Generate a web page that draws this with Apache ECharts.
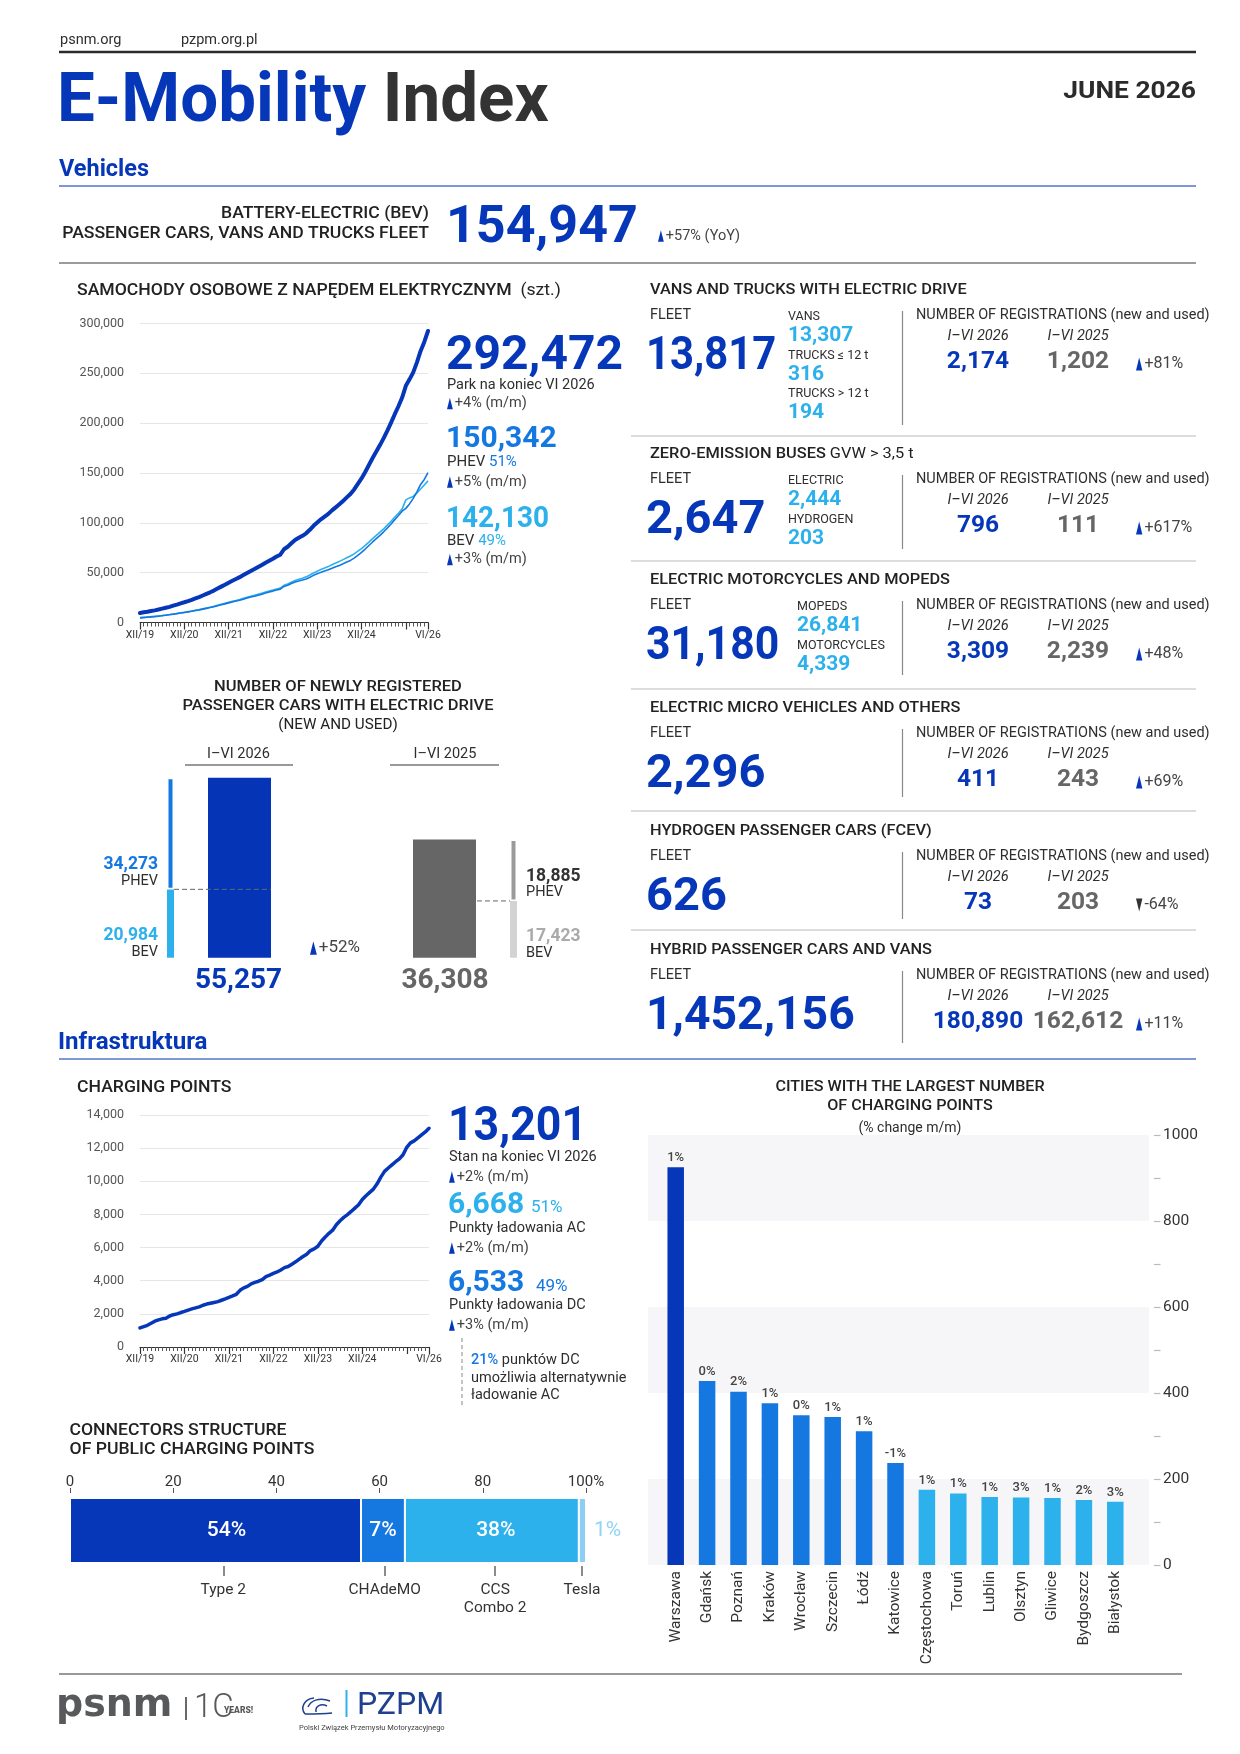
<!DOCTYPE html>
<html><head><meta charset="utf-8">
<script src="https://cdn.jsdelivr.net/npm/echarts@6/dist/echarts.min.js"></script>
<style>html,body{margin:0;padding:0;background:#fff}#c{width:1240px;height:1754px}</style>
</head><body><div id="c"></div>
<script>
// ---------------- DATA ----------------
const ROMAN = ['I','II','III','IV','V','VI','VII','VIII','IX','X','XI','XII'];
const months = ['XII/19'];
for (let y = 20; y <= 26; y++) { for (let m = 0; m < 12; m++) { if (y === 26 && m > 5) break; months.push(ROMAN[m] + '/' + y); } }
const xLabelShown = ['XII/19','XII/20','XII/21','XII/22','XII/23','XII/24','VI/26'];
const xMajorTicks = ['XII/19','XII/20','XII/21','XII/22','XII/23','XII/24','XII/25','VI/26'];

const evTotal = [
9500,10200,10800,11500,12200,13000,13900,14800,15700,16900,18000,19200,
20300,21500,22800,24200,25500,27100,28700,30300,32000,34000,36000,37900,
39900,41800,43600,45500,47600,49700,51700,53600,55700,57800,60000,62000,
64000,66200,68000,73500,76000,79500,82800,85000,87000,89500,93000,97000,
100300,103500,106200,109000,112500,115500,118600,122000,125500,129000,133500,139000,
144600,151000,158000,165000,171500,178000,185000,192500,200500,209000,217000,225700,
237500,244000,251000,261000,272500,281500,292472];
const evPhev = [
4600,4900,5200,5600,5900,6300,6800,7200,7700,8300,8900,9500,
10100,10700,11300,12000,12600,13400,14200,15000,15800,16800,17800,18700,
19700,20600,21500,22400,23400,24500,25500,26400,27400,28400,29500,30500,
31500,32600,33500,36200,37400,39100,40700,41700,42600,43700,45400,47300,
48800,50300,51600,52900,54500,55900,57300,58900,60600,62300,64600,67400,
70400,73700,77300,80800,84100,87400,91000,94800,98900,103200,107400,111700,
114500,119000,124500,131000,138500,143500,150342];
const evBev = [
4900,5300,5600,5900,6300,6700,7100,7600,8000,8600,9100,9700,
10200,10800,11500,12200,12900,13700,14500,15300,16200,17200,18200,19200,
20200,21200,22100,23100,24200,25200,26200,27200,28300,29400,30500,31500,
32500,33600,34500,37300,38600,40400,42100,43300,44400,45800,47600,49700,
51500,53200,54600,56100,58000,59600,61300,63100,64900,66700,68900,71600,
74200,77300,80700,84200,87400,90600,94000,97700,101600,105800,109600,114000,
123000,125000,126500,130000,134000,138000,142130];
const chargingPoints = [
1150,1230,1310,1430,1560,1640,1700,1740,1870,1950,2000,2080,
2150,2230,2300,2360,2420,2520,2590,2640,2690,2740,2820,2900,
2990,3080,3180,3420,3570,3660,3810,3900,3970,4070,4250,4340,
4440,4530,4650,4790,4860,5000,5140,5300,5460,5600,5820,5920,
6080,6400,6640,6860,7050,7380,7620,7820,7990,8180,8380,8580,
8900,9130,9330,9530,9850,10250,10600,10800,10990,11180,11350,11600,
12050,12320,12440,12620,12800,12980,13201];

const newRegYears = ['I–VI 2026', 'I–VI 2025'];
const newRegTotal = [55257, 36308];
const newRegPhev = [34273, 18885];
const newRegBev = [20984, 17423];

const connectorNames = ['Type 2', 'CHAdeMO', 'CCS\nCombo 2', 'Tesla'];
const connectorBarLength = [56.4, 8.5, 33.7, 1.4];
const connectorLabels = ['54%', '7%', '38%', '1%'];
const connectorTickPos = [29.7, 61.0, 82.4, 99.2];

const cities = ['Warszawa','Gdańsk','Poznań','Kraków','Wrocław','Szczecin','Łódź','Katowice','Częstochowa','Toruń','Lublin','Olsztyn','Gliwice','Bydgoszcz','Białystok'];
const cityPoints = [925, 428, 403, 376, 348, 344, 311, 237, 175, 166, 158, 157, 156, 151, 147];
const cityChange = ['1%','0%','2%','1%','0%','1%','1%','-1%','1%','1%','1%','3%','1%','2%','3%'];

const panelTitles = [
  ['VANS AND TRUCKS WITH ELECTRIC DRIVE', ''],
  ['ZERO-EMISSION BUSES', 'GVW > 3,5 t'],
  ['ELECTRIC MOTORCYCLES AND MOPEDS', ''],
  ['ELECTRIC MICRO VEHICLES AND OTHERS', ''],
  ['HYDROGEN PASSENGER CARS (FCEV)', ''],
  ['HYBRID PASSENGER CARS AND VANS', '']];
const panelFleet = [13817, 2647, 31180, 2296, 626, 1452156];
const panelSubLabels = [['VANS','TRUCKS ≤ 12 t','TRUCKS > 12 t'], ['ELECTRIC','HYDROGEN'], ['MOPEDS','MOTORCYCLES'], [], [], []];
const panelSubValues = [[13307, 316, 194], [2444, 203], [26841, 4339], [], [], []];
const panelReg2026 = [2174, 796, 3309, 411, 73, 180890];
const panelReg2025 = [1202, 111, 2239, 243, 203, 162612];
const panelChange = ['+81%', '+617%', '+48%', '+69%', '-64%', '+11%'];

const bevFleetTotal = 154947, bevFleetChange = '+57%';
const evParkTotal = 292472, evPhevTotal = 150342, evBevTotal = 142130;
const chargeTotal = 13201, chargeAC = 6668, chargeDC = 6533;

// ---------------- STYLE / HELPERS ----------------
const FF = 'Roboto, "Noto Sans", sans-serif';
const BLUE = '#0637b8', MID = '#1577e0', CYAN = '#2cb1ec', TXT = '#2e2e2e';
const fmt = v => v.toLocaleString('en-US');
function tok(size, color, w, it, ff) { return { fontSize: size, fill: color, fontWeight: w || 400, fontStyle: it ? 'italic' : 'normal', fontFamily: ff || FF }; }
function T(x, y, text, size, color, o) {
  o = o || {};
  const st = Object.assign({ text: text, textAlign: o.a || 'left', align: o.a || 'left', textVerticalAlign: 'middle', verticalAlign: 'middle' }, tok(size, color, o.w, o.it, o.ff));
  if (o.rich) st.rich = o.rich;
  const dy = size > 20 ? (size - 14) * 0.1 : 0;
  return { type: 'text', x: x, y: y + dy, scaleX: o.sx || 1, scaleY: 1, silent: true, z: 10, style: st };
}
function L(x1, y1, x2, y2, color, w, dash) {
  return { type: 'line', silent: true, z: 9, shape: { x1, y1, x2, y2 }, style: { stroke: color, lineWidth: w, lineDash: dash || null } };
}
function chg(x, y, text, size, down) {
  const h = size * 0.8, w = size * 0.4;
  const pts = down ? [[x, y - h / 2], [x + w, y - h / 2], [x + w / 2, y + h / 2]] : [[x + w / 2, y - h / 2], [x + w, y + h / 2], [x, y + h / 2]];
  return [{ type: 'polygon', silent: true, z: 10, shape: { points: pts }, style: { fill: down ? '#333' : BLUE } }, T(x + w + 2, y, text, size, '#444')];
}
function curve(x1, y1, cx1, cy1, cx2, cy2, x2, y2, color, w) {
  return { type: 'bezierCurve', silent: true, z: 10, shape: { x1, y1, cpx1: cx1, cpy1: cy1, cpx2: cx2, cpy2: cy2, x2, y2 }, style: { stroke: color, lineWidth: w, fill: null } };
}

const els = [];
// header
els.push(T(60, 40, 'psnm.org', 14.5, TXT));
els.push(T(181, 40, 'pzpm.org.pl', 14.5, TXT));
els.push(L(59, 52, 1196, 52, '#2b2b2b', 2.5));
els.push(T(57, 98, '{b|E-Mobility} {g|Index}', 69, BLUE, { w: 700, sx: 0.975, rich: { b: tok(69, BLUE, 700), g: tok(69, '#333', 700) } }));
els.push(T(1196, 91, 'JUNE 2026', 24, '#2b2b2b', { w: 700, a: 'right', sx: 1.1 }));
els.push(T(59, 169, 'Vehicles', 23, BLUE, { w: 700, sx: 1.02 }));
els.push(L(59, 186, 1196, 186, '#7d97d8', 2));
els.push(T(429, 214, 'BATTERY-ELECTRIC (BEV)', 16, '#222', { w: 500, a: 'right', sx: 1.1 }));
els.push(T(429, 234, 'PASSENGER CARS, VANS AND TRUCKS FLEET', 16, '#222', { w: 500, a: 'right', sx: 1.1 }));
els.push(T(446, 225, fmt(bevFleetTotal), 52, BLUE, { w: 700 }));
els.push(...chg(658, 236, bevFleetChange + ' (YoY)', 14.5));
els.push(L(59, 263, 1196, 263, '#9b9b9b', 2));

// EV passenger cars
els.push(T(77, 291, '{b|SAMOCHODY OSOBOWE Z NAPĘDEM ELEKTRYCZNYM}  {r|(szt.)}', 16, '#222', { sx: 1.1, rich: { b: tok(16, '#222', 500), r: tok(16, '#222', 400) } }));
els.push(T(446, 354, fmt(evParkTotal), 48, BLUE, { w: 700 }));
els.push(T(447, 385, 'Park na koniec VI 2026', 14.5, TXT));
els.push(...chg(447, 403.5, '+4% (m/m)', 14.5));
els.push(T(446, 438, fmt(evPhevTotal), 30, MID, { w: 700 }));
els.push(T(447, 462, '{k|PHEV} {m|51%}', 15, TXT, { rich: { k: tok(15, TXT), m: tok(15, MID) } }));
els.push(...chg(447, 482, '+5% (m/m)', 14.5));
els.push(T(446, 518, fmt(evBevTotal), 30, CYAN, { w: 700, sx: 0.93 }));
els.push(T(447, 541, '{k|BEV} {m|49%}', 15, TXT, { rich: { k: tok(15, TXT), m: tok(15, CYAN) } }));
els.push(...chg(447, 559.5, '+3% (m/m)', 14.5));

// new registrations
els.push(T(338, 687, 'NUMBER OF NEWLY REGISTERED', 15, '#222', { w: 500, a: 'center', sx: 1.1 }));
els.push(T(338, 706, 'PASSENGER CARS WITH ELECTRIC DRIVE', 15, '#222', { w: 500, a: 'center', sx: 1.1 }));
els.push(T(338, 725, '(NEW AND USED)', 14.5, '#222', { a: 'center', sx: 1.05 }));
els.push(T(238.5, 754, newRegYears[0], 14.5, TXT, { a: 'center' }));
els.push(L(185, 765, 293, 765, '#999', 2));
els.push(T(445, 754, newRegYears[1], 14.5, TXT, { a: 'center' }));
els.push(L(390, 765, 499, 765, '#999', 2));
els.push(T(158, 865, fmt(newRegPhev[0]), 17.5, MID, { w: 700, a: 'right' }));
els.push(T(158, 881, 'PHEV', 14.5, TXT, { a: 'right' }));
els.push(T(158, 936, fmt(newRegBev[0]), 17.5, CYAN, { w: 700, a: 'right' }));
els.push(T(158, 952, 'BEV', 14.5, TXT, { a: 'right' }));
els.push(T(238.5, 980, fmt(newRegTotal[0]), 28, BLUE, { w: 700, a: 'center' }));
els.push(...chg(310, 948, '+52%', 17));
els.push(T(526, 877, fmt(newRegPhev[1]), 17.5, '#333', { w: 700 }));
els.push(T(526, 892, 'PHEV', 14.5, TXT));
els.push(T(526, 937, fmt(newRegBev[1]), 17.5, '#aaa', { w: 700 }));
els.push(T(526, 953, 'BEV', 14.5, TXT));
els.push(T(445, 980, fmt(newRegTotal[1]), 28, '#666', { w: 700, a: 'center' }));

// right panels
const panelY = [290, 454, 580, 708, 831, 950];
const panelSubX = [788, 788, 797];
const panelDivH = [114, 74, 74, 68, 67, 72];
const panelFleetSx = [0.89, 1, 0.91, 1, 1, 0.985];
panelTitles.forEach((t, i) => {
  const y = panelY[i];
  els.push(T(650, y, '{b|' + t[0] + '}' + (t[1] ? ' {r|' + t[1] + '}' : ''), 15, '#222', { sx: 1.09, rich: { b: tok(15, '#222', 500), r: tok(15, '#222', 400) } }));
  els.push(T(650, y + 25.5, 'FLEET', 14.5, TXT));
  els.push(T(646, y + 64, fmt(panelFleet[i]), 47, BLUE, { w: 700, sx: panelFleetSx[i] }));
  panelSubLabels[i].forEach((lab, j) => {
    els.push(T(panelSubX[i], y + 27 + j * 38.5, lab, 12.5, TXT));
    els.push(T(panelSubX[i], y + 45.5 + j * 38.5, fmt(panelSubValues[i][j]), 21, CYAN, { w: 700 }));
  });
  els.push(L(902.5, y + 21, 902.5, y + 21 + panelDivH[i], '#888', 1.2));
  els.push(T(916, y + 25.5, 'NUMBER OF REGISTRATIONS (new and used)', 13.8, TXT, { sx: 1.05 }));
  els.push(T(978, y + 46.5, 'I–VI 2026', 14.5, TXT, { a: 'center', it: true }));
  els.push(T(1078, y + 46.5, 'I–VI 2025', 14.5, TXT, { a: 'center', it: true }));
  els.push(T(978, y + 71, fmt(panelReg2026[i]), 24.5, BLUE, { w: 700, a: 'center' }));
  els.push(T(1078, y + 71, fmt(panelReg2025[i]), 24.5, '#666', { w: 700, a: 'center' }));
  els.push(...chg(1136, y + 74, panelChange[i], 16, panelChange[i][0] === '-'));
});
[436, 561, 689, 811, 930].forEach(y => els.push(L(631, y, 1196, y, '#dcdcdc', 2)));

// infrastructure
els.push(T(58, 1042, 'Infrastruktura', 23, BLUE, { w: 700, sx: 1.05 }));
els.push(L(59, 1059, 1196, 1059, '#7d97d8', 2));
els.push(T(77, 1088, 'CHARGING POINTS', 16, '#222', { w: 500, sx: 1.1 }));
els.push(T(448, 1125, fmt(chargeTotal), 48, BLUE, { w: 700, sx: 0.93 }));
els.push(T(449, 1157, 'Stan na koniec VI 2026', 14.5, TXT));
els.push(...chg(449, 1177, '+2% (m/m)', 14.5));
els.push(T(448, 1204, fmt(chargeAC), 30, CYAN, { w: 700 }));
els.push(T(531, 1208, '51%', 17, CYAN));
els.push(T(449, 1228, 'Punkty ładowania AC', 14.5, TXT));
els.push(...chg(449, 1248, '+2% (m/m)', 14.5));
els.push(T(448, 1282, fmt(chargeDC), 30, MID, { w: 700 }));
els.push(T(536, 1287, '49%', 17, MID));
els.push(T(449, 1305, 'Punkty ładowania DC', 14.5, TXT));
els.push(...chg(449, 1325, '+3% (m/m)', 14.5));
els.push(L(462, 1338, 462, 1407, '#b0b0b0', 1.5, [4, 3]));
els.push(T(471, 1360, '{m|21%} punktów DC', 14.5, TXT, { rich: { m: tok(14.5, MID, 500) } }));
els.push(T(471, 1378, 'umożliwia alternatywnie', 14.5, TXT));
els.push(T(471, 1395, 'ładowanie AC', 14.5, TXT));

els.push(T(69.5, 1431, 'CONNECTORS STRUCTURE', 16, '#222', { w: 500, sx: 1.1 }));
els.push(T(69.5, 1450, 'OF PUBLIC CHARGING POINTS', 16, '#222', { w: 500, sx: 1.1 }));

els.push(T(910, 1087, 'CITIES WITH THE LARGEST NUMBER', 15.5, '#222', { w: 500, a: 'center', sx: 1.04 }));
els.push(T(910, 1106.5, 'OF CHARGING POINTS', 15.5, '#222', { w: 500, a: 'center', sx: 1.04 }));
els.push(T(910, 1128, '(% change m/m)', 14, TXT, { a: 'center' }));

// footer
els.push(L(59, 1674, 1182, 1674, '#777', 1.5));
els.push(T(56, 1704, 'psnm', 38, '#58595b', { w: 700, ff: '"DejaVu Sans", sans-serif' }));
els.push(L(186, 1697, 186, 1720, '#58595b', 1.8));
els.push(T(194, 1707, '1C', 33, '#58595b', { w: 300 }));
els.push(T(224, 1711, 'YEARS!', 8.5, '#58595b', { w: 900 }));
els.push(curve(314, 1698, 304, 1699, 300, 1708, 305, 1714, '#1f3f8f', 1.5));
els.push(curve(305, 1714, 312, 1714, 322, 1714, 332, 1713, '#1f3f8f', 1.5));
els.push(curve(308, 1707, 311, 1700, 320, 1697, 330, 1701, '#1f3f8f', 1.5));
els.push(curve(316, 1712, 315, 1706, 321, 1703, 327, 1706, '#1f3f8f', 1.5));
els.push(L(346.5, 1690, 346.5, 1717, CYAN, 2));
els.push(T(357, 1704, 'PZPM', 32, '#1f3f8f'));
els.push(T(299, 1728, 'Polski Związek Przemysłu Motoryzacyjnego', 7.5, '#444'));

// ---------------- CHART ----------------
function monthAxes(g) {
  return [{
    type: 'category', gridIndex: g, data: months, boundaryGap: false, position: 'bottom',
    axisLine: { lineStyle: { color: '#333', width: 1.2 } },
    axisTick: { interval: 0, length: 4, lineStyle: { color: '#555', width: 1 } },
    axisLabel: { interval: (i, v) => xLabelShown.includes(v), fontSize: 10.5, color: '#333', fontFamily: FF, margin: 7 },
    splitLine: { show: false }
  }, {
    type: 'category', gridIndex: g, data: months, boundaryGap: false, position: 'bottom',
    axisLine: { show: false },
    axisTick: { interval: (i, v) => xMajorTicks.includes(v), length: 7, lineStyle: { color: '#333', width: 1.2 } },
    axisLabel: { show: false }, splitLine: { show: false }
  }];
}
const hiddenCat = g => ({ type: 'category', gridIndex: g, data: ['x'], show: false });
const hiddenVal = g => ({ type: 'value', gridIndex: g, min: 0, max: newRegTotal[0], show: false });

const option = {
  animation: false,
  backgroundColor: '#fff',
  textStyle: { fontFamily: FF },
  grid: [
    { left: 140, top: 323.5, width: 288, height: 299 },   // 0 EV
    { left: 167, top: 777.7, width: 7, height: 180 },     // 1 thin 2026
    { left: 208, top: 777.7, width: 63, height: 180 },    // 2 big 2026
    { left: 413, top: 777.7, width: 63, height: 180 },    // 3 big 2025
    { left: 510, top: 777.7, width: 7, height: 180 },     // 4 thin 2025
    { left: 140, top: 1115, width: 289, height: 232 },    // 5 charging
    { left: 70, top: 1498, width: 516, height: 65 },      // 6 connectors
    { left: 648, top: 1135, width: 501, height: 430 },    // 7 cities bands
    { left: 660, top: 1135, width: 471, height: 430 }     // 8 cities bars
  ],
  xAxis: [
    ...monthAxes(0),
    hiddenCat(1), hiddenCat(2), hiddenCat(3), hiddenCat(4),
    ...monthAxes(5),
    { type: 'value', gridIndex: 6, min: 0, max: 100, interval: 20, position: 'top', offset: 5,
      axisLine: { show: false }, axisTick: { show: true, length: 5, lineStyle: { color: '#555' } },
      axisLabel: { formatter: v => v === 100 ? '100%' : String(v), fontSize: 15, color: '#333', margin: 3 },
      splitLine: { show: false } },
    { type: 'value', gridIndex: 6, min: 0, max: 100, position: 'bottom', offset: 3,
      axisLine: { show: false },
      axisTick: { show: true, customValues: connectorTickPos, length: 10, lineStyle: { color: '#666', width: 1.5 } },
      axisLabel: { show: true, customValues: connectorTickPos, formatter: v => connectorNames[connectorTickPos.indexOf(v)] || '', fontSize: 15.5, color: '#333', margin: 15, lineHeight: 18 },
      splitLine: { show: false } },
    { type: 'category', gridIndex: 7, data: ['x'], show: false },
    { type: 'category', gridIndex: 8, data: cities, axisLine: { show: false }, axisTick: { show: false },
      axisLabel: { rotate: 90, interval: 0, fontSize: 15.5, color: '#333', margin: 6 } }
  ],
  yAxis: [
    { type: 'value', gridIndex: 0, min: 0, max: 300000, interval: 50000, axisLine: { show: false }, axisTick: { show: false },
      axisLabel: { formatter: v => fmt(v), fontSize: 12.5, color: '#555', margin: 16 },
      splitLine: { lineStyle: { color: '#e6e6e6', width: 1.2 } } },
    hiddenVal(1), hiddenVal(2), hiddenVal(3), hiddenVal(4),
    { type: 'value', gridIndex: 5, min: 0, max: 14000, interval: 2000, axisLine: { show: false }, axisTick: { show: false },
      axisLabel: { formatter: v => fmt(v), fontSize: 12.5, color: '#555', margin: 16 },
      splitLine: { lineStyle: { color: '#e6e6e6', width: 1.2 } } },
    { type: 'category', gridIndex: 6, data: ['c'], show: false },
    { type: 'value', gridIndex: 7, position: 'right', min: 0, max: 1000, interval: 200, offset: 5,
      axisLine: { show: false, onZero: false },
      axisTick: { show: true, length: 6.5, lineStyle: { color: '#bbb', width: 1.2 } },
      minorTick: { show: true, splitNumber: 2, length: 6.5, lineStyle: { color: '#bbb', width: 1.2 } },
      axisLabel: { fontSize: 15.5, color: '#333', margin: 9, formatter: v => String(v) },
      splitLine: { show: false },
      splitArea: { show: true, areaStyle: { color: ['#f6f6f8', '#ffffff'] } } },
    { type: 'value', gridIndex: 8, min: 0, max: 1000, show: false }
  ],
  series: [
    { type: 'line', name: 'BEV', xAxisIndex: 0, yAxisIndex: 0, data: evBev, symbol: 'none', lineStyle: { color: CYAN, width: 1.6 }, z: 3 },
    { type: 'line', name: 'PHEV', xAxisIndex: 0, yAxisIndex: 0, data: evPhev, symbol: 'none', lineStyle: { color: MID, width: 1.6 }, z: 3 },
    { type: 'line', name: 'Total', xAxisIndex: 0, yAxisIndex: 0, data: evTotal, symbol: 'none', lineStyle: { color: BLUE, width: 4, cap: 'round', join: 'round' }, z: 4 },
    { type: 'bar', xAxisIndex: 2, yAxisIndex: 1, stack: 't26', barWidth: '100%', data: [newRegBev[0]], itemStyle: { color: CYAN } },
    { type: 'bar', xAxisIndex: 2, yAxisIndex: 1, stack: 't26', barWidth: '100%', data: [newRegPhev[0]], itemStyle: { color: MID, borderColor: '#fff', borderWidth: 1.5 } },
    { type: 'bar', xAxisIndex: 3, yAxisIndex: 2, barWidth: '100%', data: [newRegTotal[0]], itemStyle: { color: '#0535b6' } },
    { type: 'bar', xAxisIndex: 4, yAxisIndex: 3, barWidth: '100%', data: [newRegTotal[1]], itemStyle: { color: '#666666' } },
    { type: 'bar', xAxisIndex: 5, yAxisIndex: 4, stack: 't25', barWidth: '100%', data: [newRegBev[1]], itemStyle: { color: '#d3d3d3' } },
    { type: 'bar', xAxisIndex: 5, yAxisIndex: 4, stack: 't25', barWidth: '100%', data: [newRegPhev[1]], itemStyle: { color: '#9a9a9a', borderColor: '#fff', borderWidth: 1.5 } },
    { type: 'line', name: 'Charging', xAxisIndex: 6, yAxisIndex: 5, data: chargingPoints, symbol: 'none', lineStyle: { color: BLUE, width: 3.5, cap: 'round', join: 'round' } },
    ...connectorNames.map((n, i) => ({
      type: 'bar', name: n, xAxisIndex: 8, yAxisIndex: 6, stack: 'conn', barWidth: '100%',
      data: [connectorBarLength[i]],
      itemStyle: { color: [BLUE, MID, CYAN, '#8ccff2'][i], borderColor: '#fff', borderWidth: 1 },
      label: { show: true, position: i === 3 ? 'right' : 'inside', distance: 8, formatter: connectorLabels[i],
        color: i === 3 ? '#8fd3f5' : '#fff', fontSize: 21, fontWeight: i === 3 ? 400 : 500, offset: i === 0 ? [11, 0] : (i === 2 ? [4, 0] : [0, 0]) }
    })),
    { type: 'bar', xAxisIndex: 11, yAxisIndex: 8, barWidth: 16.5,
      data: cityPoints.map((v, i) => ({ value: v, itemStyle: { color: i === 0 ? BLUE : (i < 8 ? MID : CYAN) } })),
      label: { show: true, position: 'top', distance: 3, formatter: p => cityChange[p.dataIndex], fontSize: 13, fontWeight: 500, color: '#444' } }
  ]
};

const chart = echarts.init(document.getElementById('c'), null, { renderer: 'canvas' });
chart.setOption(option);
const y26 = chart.convertToPixel({ yAxisIndex: 1 }, newRegBev[0]);
const y25 = chart.convertToPixel({ yAxisIndex: 4 }, newRegBev[1]);
els.push(L(174, y26, 271, y26, '#666', 1, [5, 3]));
els.push(L(413, y25, 510, y25, '#666', 1, [5, 3]));
chart.setOption({ graphic: { elements: els } });
</script></body></html>
